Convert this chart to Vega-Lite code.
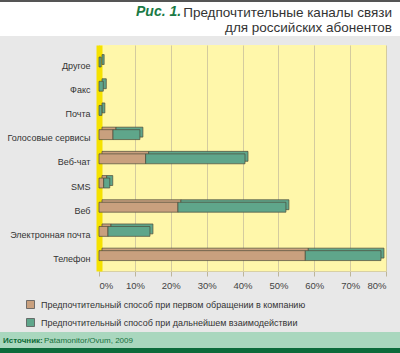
{
  "$schema": "https://vega.github.io/schema/vega-lite/v6.json",
  "background": "#e8e8e8",
  "padding": 0,
  "spacing": 0,
  "config": {
    "view": {"stroke": null},
    "concat": {"spacing": 0},
    "font": "'Liberation Sans', Arial, sans-serif"
  },
  "vconcat": [
    {
      "width": 400, "height": 2,
      "view": {"fill": "#555555", "stroke": null},
      "data": {"values": [{}]},
      "mark": {"type": "point", "size": 0, "opacity": 0},
      "encoding": {}
    },
    {
      "title": {
        "text": "Рис. 1.",
        "anchor": "start", "frame": "group", "orient": "top", "offset": -17,
        "font": "'Liberation Sans', Arial, sans-serif",
        "fontSize": 14, "fontWeight": "bold", "fontStyle": "italic", "color": "#1a7a45",
        "dx": 136
      },
      "spacing": 0,
      "vconcat": [
        {
          "width": 400, "height": 34,
          "view": {"fill": "#ffffff", "stroke": null},
          "data": {"values": [{}]},
          "mark": {"type": "point", "size": 0, "opacity": 0},
          "encoding": {},
          "title": {
            "text": ["Предпочтительные каналы связи", "для российских абонентов"],
            "anchor": "end", "frame": "group", "orient": "top", "offset": -32,
            "font": "'Liberation Sans', Arial, sans-serif",
            "fontSize": 13.5, "fontWeight": "normal", "color": "#333333", "lineHeight": 15,
            "dx": -8
          }
        }
      ]
    },
    {
      "width": 400, "height": 9,
      "data": {"values": [{}]},
      "mark": {"type": "point", "size": 0, "opacity": 0},
      "encoding": {}
    },
    {
      "spacing": 0,
      "hconcat": [
        {
          "width": 6, "height": 287,
          "data": {"values": [{}]},
          "mark": {"type": "point", "size": 0, "opacity": 0},
          "encoding": {}
        },
        {
          "width": 287, "height": 226,
          "view": {"fill": "#fff7aa", "stroke": null},
          "data": {"values": [
            {"channel": "Телефон", "series": "Предпочтительный способ при первом обращении в компанию", "value": 57.5},
            {"channel": "Телефон", "series": "Предпочтительный способ при дальнейшем взаимодействии", "value": 21.1},
            {"channel": "Электронная почта", "series": "Предпочтительный способ при первом обращении в компанию", "value": 2.5},
            {"channel": "Электронная почта", "series": "Предпочтительный способ при дальнейшем взаимодействии", "value": 11.7},
            {"channel": "Веб", "series": "Предпочтительный способ при первом обращении в компанию", "value": 22.0},
            {"channel": "Веб", "series": "Предпочтительный способ при дальнейшем взаимодействии", "value": 30.1},
            {"channel": "SMS", "series": "Предпочтительный способ при первом обращении в компанию", "value": 1.3},
            {"channel": "SMS", "series": "Предпочтительный способ при дальнейшем взаимодействии", "value": 1.7},
            {"channel": "Веб-чат", "series": "Предпочтительный способ при первом обращении в компанию", "value": 13.0},
            {"channel": "Веб-чат", "series": "Предпочтительный способ при дальнейшем взаимодействии", "value": 27.7},
            {"channel": "Голосовые сервисы", "series": "Предпочтительный способ при первом обращении в компанию", "value": 3.9},
            {"channel": "Голосовые сервисы", "series": "Предпочтительный способ при дальнейшем взаимодействии", "value": 7.5},
            {"channel": "Почта", "series": "Предпочтительный способ при дальнейшем взаимодействии", "value": 0.8},
            {"channel": "Факс", "series": "Предпочтительный способ при дальнейшем взаимодействии", "value": 1.2},
            {"channel": "Другое", "series": "Предпочтительный способ при дальнейшем взаимодействии", "value": 0.6}
          ]},
          "encoding": {
            "x": {
              "field": "value", "type": "quantitative", "stack": "zero",
              "scale": {"domain": [0, 80], "nice": false},
              "axis": {
                "title": null, "values": [0, 10, 20, 30, 40, 50, 60, 70, 80],
                "labelExpr": "datum.value + '%'",
                "grid": true, "gridColor": "#d4cb9f", "gridWidth": 1,
                "domain": true, "domainColor": "#d8d0a4",
                "ticks": true, "tickColor": "#bdb59a", "tickSize": 5,
                "labelPadding": 4, "labelFontSize": 9.5, "labelColor": "#444444",
                "labelFont": "'Liberation Sans', Arial, sans-serif"
              }
            },
            "y": {
              "field": "channel", "type": "nominal",
              "sort": ["Другое", "Факс", "Почта", "Голосовые сервисы", "Веб-чат", "SMS", "Веб", "Электронная почта", "Телефон"],
              "scale": {"paddingInner": 0, "paddingOuter": 0.17, "align": 0.6},
              "axis": {
                "title": null, "ticks": false, "grid": false,
                "domain": true, "domainColor": "#f5e200", "domainWidth": 6,
                "labelPadding": 9, "labelOffset": 3.5, "labelFontSize": 9, "labelColor": "#333333", "labelLimit": 300,
                "labelFont": "'Liberation Sans', Arial, sans-serif"
              }
            },
            "order": {"field": "series", "sort": "descending"},
            "color": {
              "field": "series", "type": "nominal", "sort": "descending",
              "scale": {"range": ["#c9a07e", "#5fa68b"]},
              "legend": {
                "orient": "none", "legendX": 26, "legendY": 300,
                "title": null, "padding": 0,
                "symbolType": "square", "symbolSize": 64,
                "symbolStrokeColor": "#555555", "symbolStrokeWidth": 0.8,
                "labelFontSize": 9, "labelColor": "#333333", "labelLimit": 400,
                "labelFont": "'Liberation Sans', Arial, sans-serif",
                "rowPadding": 5, "labelOffset": 6
              }
            }
          },
          "layer": [
            {
              "mark": {"type": "bar", "height": {"band": 0.41}, "xOffset": 3, "x2Offset": 3, "yOffset": -2.5, "y2Offset": -2.5, "stroke": "#4d4a3a", "strokeWidth": 0.7}
            },
            {
              "mark": {"type": "bar", "height": {"band": 0.41}, "stroke": "#4d4a3a", "strokeWidth": 0.7}
            }
          ]
        }
      ]
    },
    {
      "title": {
        "text": "Источник:",
        "anchor": "start", "frame": "group", "orient": "top", "offset": -13,
        "font": "'Liberation Sans', Arial, sans-serif",
        "fontSize": 8, "fontWeight": "bold", "color": "#0e6b37",
        "dx": 3
      },
      "spacing": 0,
      "vconcat": [
        {
          "width": 400, "height": 16,
          "view": {"fill": "#a9d7be", "stroke": null},
          "data": {"values": [{}]},
          "mark": {"type": "point", "size": 0, "opacity": 0},
          "encoding": {},
          "title": {
            "text": "Patamonitor/Ovum, 2009",
            "anchor": "start", "frame": "group", "orient": "top", "offset": -13,
            "font": "'Liberation Sans', Arial, sans-serif",
            "fontSize": 8, "fontWeight": "normal", "color": "#17703c",
            "dx": 44
          }
        }
      ]
    },
    {
      "width": 400, "height": 5,
      "view": {"fill": "#0c6b3b", "stroke": null},
      "data": {"values": [{}]},
      "mark": {"type": "point", "size": 0, "opacity": 0},
      "encoding": {}
    }
  ]
}
